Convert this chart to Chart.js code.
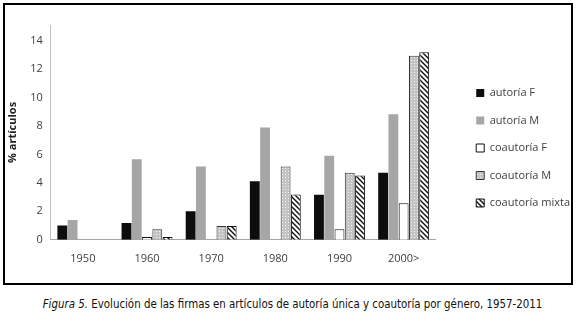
<!DOCTYPE html>
<html>
<head>
<meta charset="utf-8">
<script src="https://cdn.jsdelivr.net/npm/chart.js@4"></script>
<style>
  html, body { margin: 0; padding: 0; background: #fff; }
  body { width: 577px; height: 319px; position: relative; overflow: hidden; }
  #marco { position: absolute; left: 3px; top: 3px; width: 566px; height: 278px; border: 2px solid #000; box-sizing: content-box; }
  #marco canvas { position: absolute; left: 0; top: 0; }
  #pie { position: absolute; left: 4px; top: 297px; width: 577px; text-align: center;
         font-family: "Liberation Sans Narrow", "DejaVu Sans Condensed", "Liberation Sans", sans-serif;
         font-size: 11.4px; color: #111; }
  #pie i { font-style: italic; }
</style>
</head>
<body>
<div id="marco"><canvas id="grafica" width="566" height="278"></canvas></div>
<div id="pie"><i>Figura 5.</i> Evolución de las firmas en artículos de autoría única y coautoría por género, 1957-2011</div>
<script>
// datos
var DECADAS = ["1950", "1960", "1970", "1980", "1990", "2000>"];
var SERIES = ["autoría F", "autoría M", "coautoría F", "coautoría M", "coautoría mixta"];
var AUTORIA_F = [1.0, 1.18, 2.0, 4.12, 3.16, 4.71];
var AUTORIA_M = [1.4, 5.67, 5.15, 7.9, 5.9, 8.83];
var COAUTORIA_F = [0, 0.2, 0, 0, 0.75, 2.57];
var COAUTORIA_M = [0, 0.75, 0.97, 5.15, 4.71, 12.93];
var COAUTORIA_MIXTA = [0, 0.2, 0.97, 3.18, 4.52, 13.19];
var TICKS_Y = [0, 2, 4, 6, 8, 10, 12, 14];

function tramaPuntos(){
	var c = document.createElement('canvas');
	c.width = 3; c.height = 3;
	var ctx = c.getContext('2d');
	ctx.fillStyle = '#c4c4c4';
	ctx.fillRect(0, 0, 3, 3);
	ctx.fillStyle = '#f2f2f2';
	ctx.fillRect(1, 1, 1, 1);
	return ctx.createPattern(c, 'repeat');
}

function tramaDiagonal(){
	var c = document.createElement('canvas');
	c.width = 5; c.height = 5;
	var ctx = c.getContext('2d');
	ctx.fillStyle = '#fff';
	ctx.fillRect(0, 0, 5, 5);
	ctx.strokeStyle = '#111';
	ctx.lineWidth = 1.4;
	ctx.beginPath();
	ctx.moveTo(-1, -1); ctx.lineTo(6, 6);
	ctx.moveTo(-1, 4); ctx.lineTo(1, 6);
	ctx.moveTo(4, -1); ctx.lineTo(6, 1);
	ctx.stroke();
	return ctx.createPattern(c, 'repeat');
}

var DATASETS = [
	{label: SERIES[0], data: AUTORIA_F, backgroundColor: '#0d0d0d', borderColor: '#0d0d0d', borderWidth: 0},
	{label: SERIES[1], data: AUTORIA_M, backgroundColor: '#a6a6a6', borderColor: '#a6a6a6', borderWidth: 0},
	{label: SERIES[2], data: COAUTORIA_F, backgroundColor: '#ffffff', borderColor: '#111', borderWidth: 1},
	{label: SERIES[3], data: COAUTORIA_M, backgroundColor: tramaPuntos(), borderColor: '#333', borderWidth: 1},
	{label: SERIES[4], data: COAUTORIA_MIXTA, backgroundColor: tramaDiagonal(), borderColor: '#111', borderWidth: 1}
];

// la leyenda queda mas separada del area de barras, como en el original
var EXTRA_LEYENDA = 15;
var MOVER_LEYENDA = 24;
var ajusteLeyenda = {
	id: 'ajusteLeyenda',
	beforeLayout: function(chart){
		var lg = chart.legend;
		if (lg && !lg._fitOriginal) {
			lg._fitOriginal = lg.fit;
			lg.fit = function(){
				this._fitOriginal();
				this.width += EXTRA_LEYENDA;
			};
		}
	},
	afterLayout: function(chart){
		var lg = chart.legend;
		lg.left += MOVER_LEYENDA;
		lg.right += MOVER_LEYENDA;
		lg.top -= 3;
		lg.bottom -= 3;
	}
};

Chart.defaults.font.family = '"Open Sans", "Liberation Sans", sans-serif';
Chart.defaults.color = '#404040';

var config = {
	type: 'bar',
	data: {
		labels: DECADAS,
		datasets: DATASETS
	},
	options: {
		responsive: false,
		animation: false,
		layout: { padding: { top: 20, right: 0, bottom: 6, left: 1 } },
		datasets: { bar: { categoryPercentage: 0.8, barPercentage: 0.96 } },
		plugins: {
			legend: {
				position: 'right',
				align: 'center',
				labels: {
					boxWidth: 8,
					boxHeight: 8,
					padding: 16.5,
					font: { size: 11 },
					color: '#404040'
				}
			},
			tooltip: { enabled: false }
		},
		scales: {
			x: {
				grid: { display: false, drawTicks: false },
				border: { color: '#a6a6a6', width: 1 },
				ticks: { font: { size: 11 }, padding: 12, color: '#404040' }
			},
			y: {
				min: 0,
				max: 15.1,
				grid: { display: false, drawTicks: false },
				border: { color: '#bfbfbf', width: 1 },
				afterBuildTicks: function(scale){
					scale.ticks = TICKS_Y.map(function(v){ return {value: v}; });
				},
				ticks: { font: { size: 11 }, padding: 8, color: '#404040' },
				title: {
					display: true,
					text: '% artículos',
					font: { size: 11, weight: 'bold' },
					color: '#222',
					padding: { top: 0, bottom: 3 }
				}
			}
		}
	},
	plugins: [ajusteLeyenda]
};

new Chart(document.getElementById('grafica').getContext('2d'), config);
</script>
</body>
</html>
